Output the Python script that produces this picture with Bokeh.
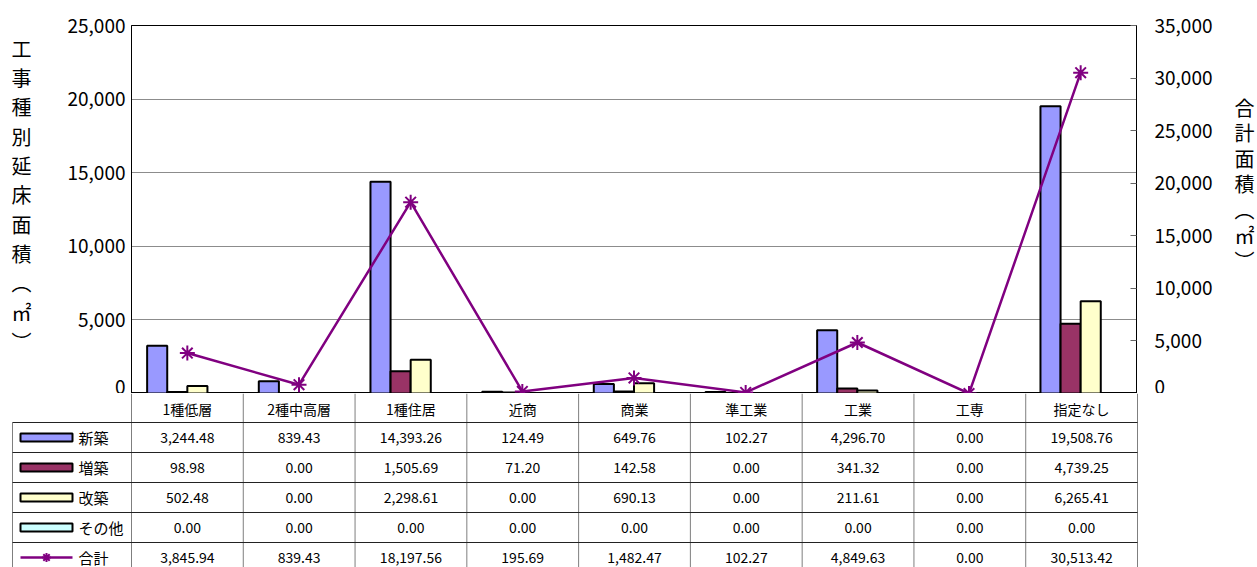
from bokeh.plotting import figure
from bokeh.models import (FactorRange, Range1d, LinearAxis, NumeralTickFormatter,
                          FixedTicker, ColumnDataSource)
from bokeh.transform import dodge
from bokeh.layouts import column
from bokeh.embed import file_html
from bokeh.resources import INLINE
from bokeh.core.properties import value

# ---------------- data ----------------
categories = ["1種低層", "2種中高層", "1種住居", "近商", "商業", "準工業", "工業", "工専", "指定なし"]
shinchiku = [3244.48, 839.43, 14393.26, 124.49, 649.76, 102.27, 4296.70, 0.00, 19508.76]
zouchiku = [98.98, 0.00, 1505.69, 71.20, 142.58, 0.00, 341.32, 0.00, 4739.25]
kaichiku = [502.48, 0.00, 2298.61, 0.00, 690.13, 0.00, 211.61, 0.00, 6265.41]
sonota = [0.00, 0.00, 0.00, 0.00, 0.00, 0.00, 0.00, 0.00, 0.00]
goukei = [3845.94, 839.43, 18197.56, 195.69, 1482.47, 102.27, 4849.63, 0.00, 30513.42]

series_names = ["新築", "増築", "改築", "その他"]
series_colors = ["#9999FF", "#993366", "#FFFFCC", "#CCFFFF"]
total_name = "合計"
total_color = "#800080"

left_ticks = [0, 5000, 10000, 15000, 20000, 25000]
right_ticks = [0, 5000, 10000, 15000, 20000, 25000, 30000, 35000]
left_title_chars = ["工", "事", "種", "別", "延", "床", "面", "積", "︵", "㎡", "︶"]
right_title_chars = ["合", "計", "面", "積", "︵", "㎡", "︶"]

FONT = "Noto Sans CJK JP"

# ---------------- layout constants (screen px) ----------------
FIG_W = 1257
FIG_H = 567
FRAME_L = 131
FRAME_R = 1137
FRAME_T = 25
FRAME_B = 393
cat_w = (FRAME_R - FRAME_L) / len(categories)

# ---------------- main chart ----------------
src = ColumnDataSource(dict(cat=categories, s0=shinchiku, s1=zouchiku, s2=kaichiku,
                            s3=sonota, total=goukei))

p = figure(x_range=FactorRange(factors=categories, range_padding=0),
           y_range=Range1d(0, 25000),
           width=FIG_W, height=FRAME_B,
           min_border_left=FRAME_L, min_border_right=FIG_W - FRAME_R,
           min_border_top=FRAME_T, min_border_bottom=0,
           output_backend="svg", toolbar_location=None)
p.frame_align = False
p.background_fill_color = "white"
p.border_fill_color = "white"
p.outline_line_color = "#000000"
p.outline_line_width = 1
p.xaxis.visible = False
p.xgrid.visible = False
p.ygrid.grid_line_color = "#8c8c8c"
p.ygrid.grid_line_width = 1

ya = p.yaxis[0]
ya.ticker = FixedTicker(ticks=left_ticks)
ya.formatter = NumeralTickFormatter(format="0,0")
ya.major_label_text_font = FONT
ya.major_label_text_font_size = "19px"
ya.major_label_text_color = "#000000"
ya.major_label_standoff = 6
ya.major_tick_in = 0
ya.major_tick_out = 0
ya.minor_tick_in = 0
ya.minor_tick_out = 0
ya.axis_line_color = "#000000"
ya.axis_label = "\n".join(left_title_chars + [" "])
ya.axis_label_orientation = "horizontal"
ya.axis_label_text_font = FONT
ya.axis_label_text_font_size = "20px"
ya.axis_label_text_font_style = "normal"
ya.axis_label_text_color = "#000000"
ya.axis_label_text_line_height = 1.01
ya.axis_label_standoff = 33

p.extra_y_ranges = {"total": Range1d(0, 35000)}
ra = LinearAxis(y_range_name="total", ticker=FixedTicker(ticks=right_ticks),
                formatter=NumeralTickFormatter(format="0,0"))
ra.major_label_text_font = FONT
ra.major_label_text_font_size = "19px"
ra.major_label_text_color = "#000000"
ra.major_label_standoff = 18
ra.major_tick_in = 6
ra.major_tick_out = 0
ra.major_tick_line_color = "#666666"
ra.minor_tick_in = 0
ra.minor_tick_out = 0
ra.axis_line_color = "#000000"
ra.axis_label = "\n".join(right_title_chars + [" ", " "])
ra.axis_label_orientation = "horizontal"
ra.axis_label_text_font = FONT
ra.axis_label_text_font_size = "20px"
ra.axis_label_text_font_style = "normal"
ra.axis_label_text_color = "#000000"
ra.axis_label_text_line_height = 0.88
ra.axis_label_standoff = 19
p.add_layout(ra, "right")

bw = 0.18
offsets = [-1.5 * bw, -0.5 * bw, 0.5 * bw, 1.5 * bw]
for k, (name, col) in enumerate(zip(series_names, series_colors)):
    p.vbar(x=dodge("cat", offsets[k], range=p.x_range), top="s%d" % k, width=bw,
           source=src, fill_color=col, line_color="#000000", line_width=2)

p.line(x="cat", y="total", source=src, y_range_name="total",
       line_color=total_color, line_width=2.5)
p.scatter(x="cat", y="total", source=src, y_range_name="total", marker="asterisk",
          size=15, line_color=total_color, line_width=2)

# ---------------- data table below ----------------
TBL_H = FIG_H - FRAME_B
t_left = 11
x0 = -(FRAME_L - t_left) / cat_w
x1 = len(categories) + 1 / cat_w
t = figure(x_range=Range1d(x0, x1), y_range=Range1d(TBL_H, 0),
           width=FIG_W, height=TBL_H,
           min_border_left=t_left, min_border_right=FIG_W - FRAME_R - 1,
           min_border_top=0, min_border_bottom=0,
           x_axis_type=None, y_axis_type=None,
           output_backend="svg", toolbar_location=None)
t.frame_align = False
t.outline_line_color = None
t.grid.visible = False
t.background_fill_color = "white"
t.border_fill_color = "white"

head_h = 29
row_h = 30
n_rows = 5
left_edge = -(FRAME_L - 12) / cat_w

# vertical lines
vx0, vy0, vx1, vy1 = [], [], [], []
for i in range(len(categories) + 1):
    vx0.append(i); vx1.append(i); vy0.append(0); vy1.append(TBL_H + 20)
vx0.append(left_edge); vx1.append(left_edge); vy0.append(head_h); vy1.append(TBL_H + 20)
t.segment(x0=vx0, y0=vy0, x1=vx1, y1=vy1, line_color="#7f7f7f", line_width=1)
# horizontal lines
hy = [head_h + row_h * k for k in range(n_rows)]
t.segment(x0=[left_edge] * len(hy), y0=hy, x1=[len(categories)] * len(hy), y1=hy,
          line_color="#222222", line_width=1)

# header labels
cx = [i + 0.5 for i in range(len(categories))]
t.text(x=cx, y=[head_h / 2 + 1] * len(categories), text=categories,
       text_font=value(FONT), text_font_size=value("14px"), text_color="#000000",
       text_align="center", text_baseline="middle")

# values
table_rows = [shinchiku, zouchiku, kaichiku, sonota, goukei]
row_labels = series_names + [total_name]
tx, ty, tt = [], [], []
for r, vals in enumerate(table_rows):
    yc = head_h + row_h * r + row_h / 2
    for i, v in enumerate(vals):
        tx.append(i + 0.5); ty.append(yc); tt.append("{:,.2f}".format(v))
t.text(x=tx, y=ty, text=tt, text_font=value(FONT), text_font_size=value("14px"),
       text_color="#000000", text_align="center", text_baseline="middle")

# legend keys in the left column
sw_l = (20 - FRAME_L) / cat_w
sw_r = (72 - FRAME_L) / cat_w
sw_c = (46 - FRAME_L) / cat_w
ly = [head_h + row_h * r + row_h / 2 for r in range(n_rows)]
t.quad(left=[sw_l] * 4, right=[sw_r] * 4, top=[y - 4 for y in ly[:4]],
       bottom=[y + 4 for y in ly[:4]], fill_color=series_colors,
       line_color="#000000", line_width=2)
t.line(x=[sw_l, sw_r], y=[ly[4], ly[4]], line_color=total_color, line_width=2.5)
t.scatter(x=[sw_c], y=[ly[4]], marker="asterisk", size=9, line_color=total_color,
          line_width=2)
t.text(x=[(78 - FRAME_L) / cat_w] * n_rows, y=ly, text=row_labels,
       text_font=value(FONT), text_font_size=value("15px"), text_color="#000000",
       text_align="left", text_baseline="middle")

layout = column(p, t, spacing=0)
open("out.html", "w").write(file_html(layout, INLINE))
